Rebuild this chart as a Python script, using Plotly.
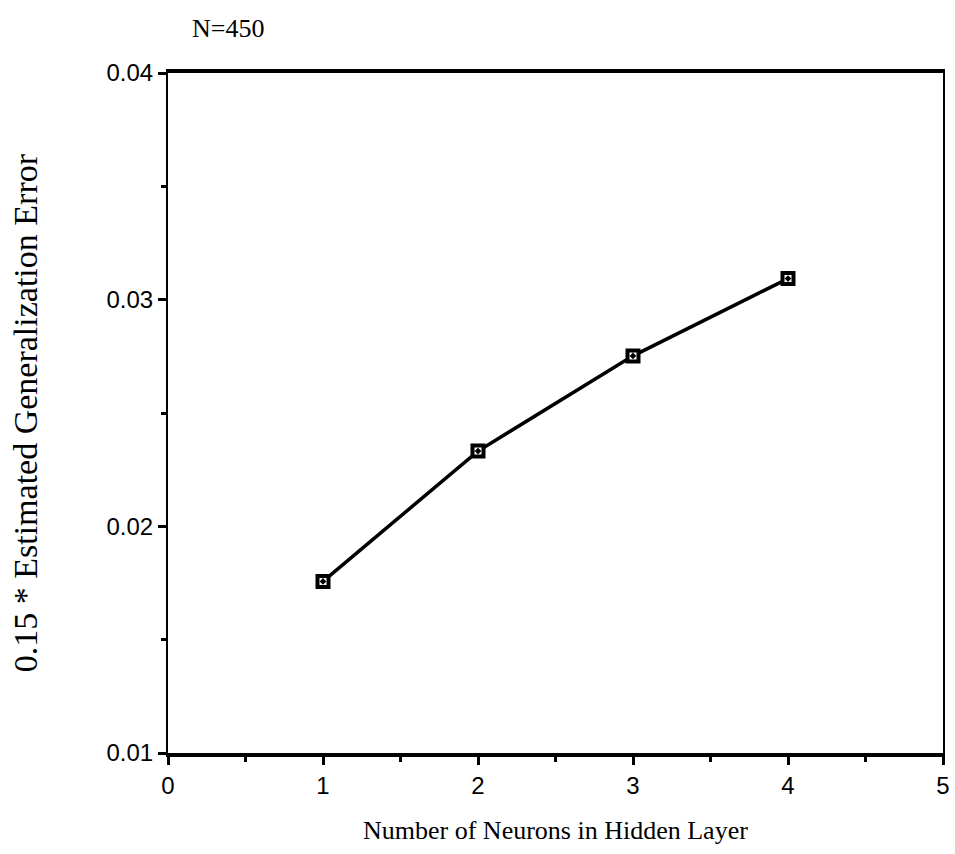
import plotly.graph_objects as go

# Hidden-layer size vs. scaled estimated generalization error (N=450)
neurons = [1, 2, 3, 4]
gen_error = [0.01757, 0.02332, 0.02752, 0.03093]

x_ticks = [0, 1, 2, 3, 4, 5]
y_ticks = [0.01, 0.02, 0.03, 0.04]

serif = "Liberation Serif, Times New Roman, serif"
sans = "Liberation Sans, Arial, Helvetica, sans-serif"

W, H = 955, 854
M_L, M_R, M_T, M_B = 168, 5, 73, 101
plot_w = W - M_L - M_R
plot_h = H - M_T - M_B

fig = go.Figure()
fig.add_trace(go.Scatter(
    x=neurons,
    y=gen_error,
    mode="lines+markers",
    line=dict(color="black", width=3.5),
    marker=dict(symbol="square-dot", size=11, color="white",
                line=dict(color="black", width=4)),
    showlegend=False,
    hoverinfo="x+y",
))

axis_common = dict(
    showgrid=False,
    zeroline=False,
    showline=True,
    linecolor="black",
    mirror=True,
    ticks="outside",
    ticklen=8,
    tickwidth=2.5,
    tickcolor="black",
    tickfont=dict(family=sans, size=24),
)

fig.update_layout(
    width=W,
    height=H,
    margin=dict(l=M_L, r=M_R, t=M_T, b=M_B),
    paper_bgcolor="white",
    plot_bgcolor="white",
    font=dict(family=sans, color="black", size=24),
    xaxis=dict(
        range=[0, 5],
        tickvals=x_ticks,
        ticktext=[str(v) for v in x_ticks],
        linewidth=3.5,
        minor=dict(dtick=0.5, ticks="outside", ticklen=5, tickwidth=2.5,
                   tickcolor="black", showgrid=False),
        **axis_common,
    ),
    yaxis=dict(
        range=[0.01, 0.04],
        tickvals=y_ticks,
        tickformat=".2f",
        linewidth=2,
        minor=dict(dtick=0.005, ticks="outside", ticklen=5, tickwidth=2.5,
                   tickcolor="black", showgrid=False),
        **axis_common,
    ),
    annotations=[
        dict(text="N=450",
             x=(190 - M_L) / plot_w, y=(H - M_B - 28) / plot_h,
             xref="paper", yref="paper", showarrow=False,
             font=dict(family=serif, size=26),
             xanchor="left", yanchor="middle"),
        dict(text="Number of Neurons in Hidden Layer",
             x=0.5, y=-(830 - (H - M_B)) / plot_h,
             xref="paper", yref="paper", showarrow=False,
             font=dict(family=serif, size=26),
             xanchor="center", yanchor="middle"),
        dict(text="0.15 * Estimated Generalization Error",
             x=-(M_L - 24) / plot_w, y=0.5,
             xref="paper", yref="paper", showarrow=False, textangle=-90,
             font=dict(family=serif, size=34),
             xanchor="center", yanchor="middle"),
    ],
)

fig.write_html("out.html")
